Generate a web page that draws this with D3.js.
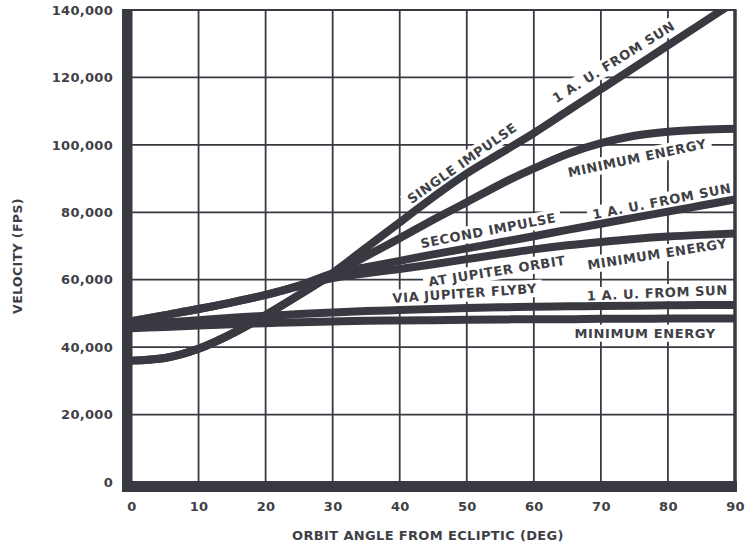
<!DOCTYPE html>
<html><head><meta charset="utf-8">
<script src="https://cdn.jsdelivr.net/npm/d3@7/dist/d3.min.js"></script>
<style>
body{margin:0;background:#fff}
text{font-family:"DejaVu Sans",sans-serif;font-weight:bold;fill:#3f3f46}
</style>
</head><body>
<svg id="chart" width="749" height="548"></svg>
<script>
// ---- data ----
const angles      = [0,5,10,15,20,25,30,35,40,45,50,55,60,65,70,75,80,85,90];
const singleAU    = [36,36.8,39.5,44,49.5,55.5,62,69.5,77,84.5,91.5,97.5,103.5,110,116.5,123,129.5,136,142.5];
const singleMin   = [36,36.8,39.5,44,49.5,55.5,61.5,67,72.3,77.8,83,88.3,93,97.3,100.5,102.7,103.9,104.5,104.8];
const secondAU    = [47.7,49.5,51.3,53.3,55.5,58.3,61.8,63.7,65.6,67.5,69.3,71.1,72.9,74.8,76.6,78.4,80.2,82,83.8];
const secondMin   = [47.7,49.5,51.3,53.3,55.5,58.1,60.5,61.9,63.2,64.6,66.1,67.6,69,70.2,71.2,72.1,72.8,73.3,73.7];
const flybyAU     = [46.5,47.3,48,48.7,49.3,49.8,50.3,50.7,51,51.3,51.6,51.8,52,52.1,52.2,52.3,52.4,52.5,52.5];
const flybyMin    = [45.6,46,46.4,46.8,47.1,47.4,47.6,47.8,47.9,48,48.1,48.2,48.3,48.3,48.4,48.4,48.5,48.5,48.5];
const seriesList  = [singleAU, singleMin, secondAU, secondMin, flybyAU, flybyMin];
const xTickValues = [0,10,20,30,40,50,60,70,80,90];
const yTickValues = [0,20000,40000,60000,80000,100000,120000,140000];
const xTitle = "ORBIT ANGLE FROM ECLIPTIC (DEG)";
const yTitle = "VELOCITY (FPS)";
// annotation texts, anchored in data units (deg, fps) with a text slope
const labelTexts  = ["SINGLE IMPULSE","1 A. U. FROM SUN","MINIMUM ENERGY","SECOND IMPULSE","1 A. U. FROM SUN","AT JUPITER ORBIT","MINIMUM ENERGY","VIA JUPITER FLYBY","1 A. U. FROM SUN","MINIMUM ENERGY"];
const labelDeg    = [49.3,71.9,75.4,53.2,79.1,54.5,78.4,49.7,78.4,76.6];
const labelVel    = [94600,124600,96100,74600,83300,62600,67600,56000,56100,44200];
const labelRot    = [-35,-32,-12,-11,-11,-9,-9,-4,-2.5,0];

// ---- drawing ----
const svg = d3.select("#chart");
const x = d3.scaleLinear().domain([0,90]).range([131.5,735]);
const y = d3.scaleLinear().domain([0,140000]).range([482,10]);
const ink = "#393941";

// grid
const grid = svg.append("g");
grid.selectAll("line.v").data(xTickValues.filter(d=>d>0&&d<90)).join("line")
  .attr("x1",d=>x(d)).attr("x2",d=>x(d)).attr("y1",y(0)).attr("y2",y(140000))
  .attr("stroke",ink).attr("stroke-width",1.8);
grid.selectAll("line.h").data(yTickValues.filter(d=>d>0&&d<140000)).join("line")
  .attr("x1",x(0)).attr("x2",x(90)).attr("y1",d=>y(d)).attr("y2",d=>y(d))
  .attr("stroke",ink).attr("stroke-width",1.8);

const bgLayer = svg.append("g");
const curveLayer = svg.append("g");
const frameLayer = svg.append("g");
const textLayer = svg.append("g");

// frame
frameLayer.append("line").attr("x1",x(0)).attr("x2",x(90)+1.5).attr("y1",y(140000)).attr("y2",y(140000))
  .attr("stroke",ink).attr("stroke-width",2.2);
frameLayer.append("line").attr("x1",x(90)).attr("x2",x(90)).attr("y1",y(140000)).attr("y2",y(0))
  .attr("stroke",ink).attr("stroke-width",3.5);
frameLayer.append("rect").attr("x",x(0)-9.5).attr("y",y(140000)-1).attr("width",10.5).attr("height",y(0)-y(140000)+11)
  .attr("fill",ink);
frameLayer.append("rect").attr("x",x(0)-9.5).attr("y",y(0)-1).attr("width",x(90)-x(0)+11.5).attr("height",11)
  .attr("fill",ink);

// curves
svg.append("clipPath").attr("id","plotclip").append("rect")
  .attr("x",x(0)).attr("y",y(140000)).attr("width",x(90)-x(0)).attr("height",y(0)-y(140000));
const line = d3.line().x((d,i)=>x(angles[i])).y(d=>y(d*1000)).curve(d3.curveMonotoneX);
curveLayer.attr("clip-path","url(#plotclip)");
curveLayer.selectAll("path").data(seriesList).join("path")
  .attr("d",d=>line(d)).attr("fill","none").attr("stroke",ink).attr("stroke-width",8);

// annotations (white boxes break the grid lines)
labelTexts.forEach((t,i)=>{
  const tr = `translate(${x(labelDeg[i])},${y(labelVel[i])}) rotate(${labelRot[i]})`;
  const g = textLayer.append("g").attr("transform",tr);
  const tx = g.append("text").attr("text-anchor","middle").attr("dy","0.36em")
    .attr("font-size",13).attr("letter-spacing",0.6).text(t);
  const bb = tx.node().getBBox();
  bgLayer.append("g").attr("transform",tr).append("rect")
    .attr("x",bb.x-5).attr("y",bb.y-1).attr("width",bb.width+10).attr("height",bb.height+2)
    .attr("fill","#fff");
});

// axes tick labels
const yAxis = d3.axisLeft(y).tickValues(yTickValues).tickFormat(d3.format(",")).tickSize(0).tickPadding(9);
const ya = textLayer.append("g").attr("transform",`translate(${x(0)-9.5},0)`).call(yAxis);
ya.select(".domain").remove();
ya.selectAll("text").attr("font-size",13).attr("font-family",null).attr("fill",null).attr("letter-spacing",0.3);

const xAxis = d3.axisBottom(x).tickValues(xTickValues).tickSize(0).tickPadding(10);
const xa = textLayer.append("g").attr("transform",`translate(0,${y(0)+10})`).call(xAxis);
xa.select(".domain").remove();
xa.selectAll("text").attr("font-size",13).attr("font-family",null).attr("fill",null).attr("letter-spacing",0.3);

// titles
textLayer.append("text").attr("x",428).attr("y",540).attr("text-anchor","middle")
  .attr("font-size",13).attr("letter-spacing",0.35).text(xTitle);
textLayer.append("text").attr("transform","translate(22,256) rotate(-90)").attr("text-anchor","middle")
  .attr("font-size",12.5).attr("letter-spacing",0.4).text(yTitle);
</script>
</body></html>
